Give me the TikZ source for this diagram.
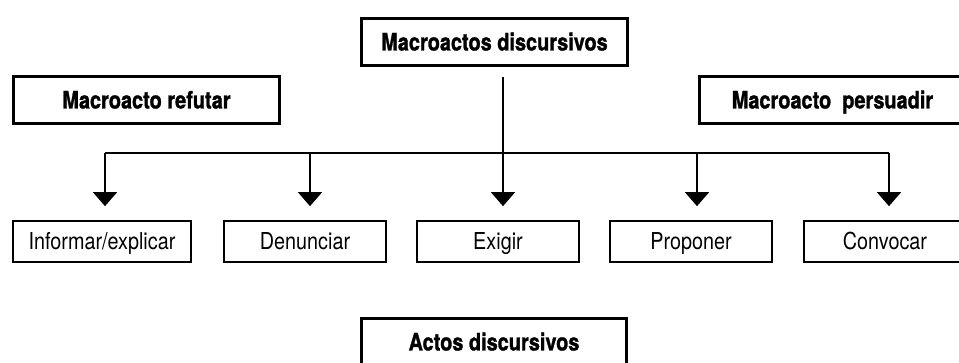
\documentclass[tikz,border=0pt]{standalone}
\usepackage{fontspec}
\setmainfont[FakeStretch=0.85,BoldFeatures={FakeStretch=0.83,FakeBold=1.2}]{TeX Gyre Heros}
\usetikzlibrary{arrows.meta,calc}
\begin{document}
\begin{tikzpicture}[x=1pt,y=-1pt,
  bigbox/.style={draw,line width=3pt,minimum width=266pt,minimum height=47pt,inner sep=0pt,
    text height=17pt,text depth=0pt,font=\fontsize{24}{28}\selectfont\bfseries},
  actbox/.style={draw,line width=1.6pt,minimum height=41.5pt,inner sep=0pt,
    text height=16.7pt,text depth=0pt,font=\fontsize{23.3}{28}\selectfont},
  link/.style={line width=1.6pt},
  arr/.style={link,-{Triangle[width=24pt,length=14pt]},shorten >=13.8pt}]
\useasboundingbox (0,0) rectangle (959,363);
\clip (0,0) rectangle (959,363);

\node[bigbox] (macro) at (494.5,42) {Macroactos discursivos};
\node[bigbox] (refutar) at (146.5,100) {Macroacto refutar};
\node[bigbox] (persuadir) at (832.5,100) {Macroacto\ \ persuadir};

\node[actbox,minimum width=178.5pt] (inf) at (102,241.5) {Informar/explicar};
\node[actbox,minimum width=162.5pt] (den) at (305,241.5) {Denunciar};
\node[actbox,minimum width=162.5pt] (exi) at (498,241.5) {Exigir};
\node[actbox,minimum width=162.5pt] (pro) at (691,241.5) {Proponer};
\node[actbox,minimum width=162.5pt] (con) at (885,241.5) {Convocar};

\node[bigbox,minimum width=265pt] (actos) at (494,342) {Actos discursivos};

\coordinate (top) at (503,77);
\coordinate (h1) at (105,153);
\coordinate (h2) at (310,153);
\coordinate (h4) at (697,153);
\coordinate (h5) at (889,153);

\draw[link] (h1) -- (h5);
\draw[arr] (top) -- (top |- exi.north);
\draw[arr] (h1) -- (h1 |- inf.north);
\draw[arr] (h2) -- (h2 |- den.north);
\draw[arr] (h4) -- (h4 |- pro.north);
\draw[arr] (h5) -- (h5 |- con.north);
\end{tikzpicture}
\end{document}
